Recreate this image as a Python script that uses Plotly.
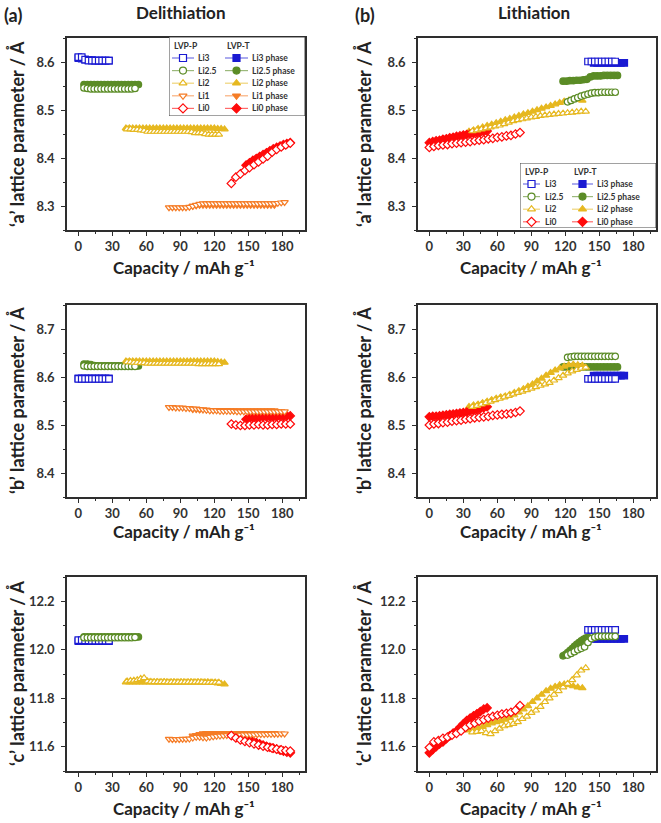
import plotly.graph_objects as go

# ------------------------------------------------------------------
# DATA  (capacity in mAh/g, lattice parameters in Angstrom)
# ------------------------------------------------------------------
# ---------- Delithiation, LVP-P (open symbols) ----------
del_p_li3_cap = [0, 3, 6, 9, 12, 15, 18, 21, 24, 27]
del_p_li3_a = [8.610, 8.610, 8.605, 8.603, 8.603, 8.603, 8.603, 8.603, 8.603, 8.603]
del_p_li3_b = [8.596, 8.596, 8.596, 8.596, 8.596, 8.596, 8.596, 8.596, 8.596, 8.596]
del_p_li3_c = [12.040, 12.040, 12.039, 12.039, 12.038, 12.038, 12.038, 12.038, 12.038, 12.038]

del_p_li25_cap = [5, 8, 11, 14, 17, 20, 23, 26, 29, 32, 35, 38, 41, 44, 47, 50]
del_p_li25_a = [8.546, 8.545, 8.544, 8.544, 8.544, 8.544, 8.544, 8.544, 8.544, 8.544, 8.544, 8.544, 8.544, 8.544, 8.544, 8.545]
del_p_li25_b = [8.623, 8.622, 8.622, 8.622, 8.622, 8.622, 8.622, 8.622, 8.622, 8.622, 8.622, 8.622, 8.622, 8.622, 8.622, 8.622]
del_p_li25_c = [12.050, 12.050, 12.050, 12.050, 12.050, 12.050, 12.050, 12.050, 12.050, 12.050, 12.050, 12.050, 12.050, 12.050, 12.050, 12.051]

del_p_li2_cap = [43, 46, 49, 52, 55, 58, 61, 64, 67, 70, 73, 76, 79, 82, 85, 88, 91, 94, 97, 100, 103, 106, 109, 112, 115, 118, 121, 124]
del_p_li2_a = [8.460, 8.460, 8.459, 8.459, 8.458, 8.457, 8.455, 8.455, 8.455, 8.455, 8.455, 8.455, 8.455, 8.455,
               8.455, 8.455, 8.455, 8.455, 8.455, 8.454, 8.452, 8.452, 8.452, 8.450, 8.449, 8.449, 8.449, 8.449]
del_p_li2_b = [8.631, 8.631, 8.630, 8.630, 8.629, 8.629, 8.628, 8.628, 8.628, 8.628, 8.628, 8.628, 8.628, 8.628,
               8.628, 8.628, 8.628, 8.628, 8.628, 8.628, 8.628, 8.627, 8.627, 8.627, 8.627, 8.627, 8.627, 8.627]
del_p_li2_c = [11.870, 11.872, 11.873, 11.875, 11.880, 11.884, 11.870, 11.868, 11.867, 11.867, 11.867, 11.867, 11.866, 11.866,
               11.866, 11.866, 11.866, 11.866, 11.866, 11.866, 11.866, 11.866, 11.866, 11.865, 11.865, 11.865, 11.865, 11.865]

del_p_li1_cap = [80, 83, 86, 89, 92, 95, 98, 101, 104, 107, 110, 113, 116, 119, 122, 125, 128, 131, 134, 137, 140, 143,
                 146, 149, 152, 155, 158, 161, 164, 167, 170, 173, 176, 179, 182]
del_p_li1_a = [8.297, 8.297, 8.297, 8.297, 8.297, 8.297, 8.298, 8.300, 8.302, 8.304, 8.305, 8.305, 8.305, 8.305, 8.305,
               8.305, 8.305, 8.305, 8.305, 8.305, 8.305, 8.305, 8.305, 8.305, 8.305, 8.305, 8.305, 8.305, 8.305, 8.305,
               8.305, 8.305, 8.306, 8.307, 8.308]
del_p_li1_b = [8.537, 8.537, 8.536, 8.536, 8.536, 8.535, 8.535, 8.534, 8.534, 8.533, 8.532, 8.531, 8.530, 8.530, 8.530,
               8.529, 8.529, 8.529, 8.529, 8.529, 8.528, 8.528, 8.528, 8.528, 8.528, 8.528, 8.528, 8.528, 8.528, 8.528,
               8.528, 8.528, 8.528, 8.528, 8.528]
del_p_li1_c = [11.632, 11.631, 11.631, 11.631, 11.632, 11.632, 11.633, 11.637, 11.640, 11.640, 11.638, 11.637, 11.640,
               11.642, 11.644, 11.645, 11.646, 11.647, 11.648, 11.648, 11.649, 11.649, 11.650, 11.650, 11.650, 11.650,
               11.651, 11.651, 11.651, 11.652, 11.652, 11.653, 11.653, 11.654, 11.654]

del_p_li0_cap = [135, 139, 143, 147, 151, 155, 159, 163, 167, 171, 175, 179, 183, 187]
del_p_li0_a = [8.347, 8.360, 8.367, 8.374, 8.380, 8.386, 8.392, 8.398, 8.404, 8.412, 8.418, 8.423, 8.427, 8.431]
del_p_li0_b = [8.502, 8.500, 8.499, 8.499, 8.500, 8.500, 8.501, 8.500, 8.500, 8.501, 8.501, 8.502, 8.502, 8.502]
del_p_li0_c = [11.646, 11.636, 11.628, 11.622, 11.617, 11.612, 11.607, 11.602, 11.598, 11.594, 11.590, 11.587, 11.584, 11.582]

# ---------- Delithiation, LVP-T (filled symbols) ----------
del_t_li3_cap = [0, 3, 6, 9, 12, 15, 18, 21, 24, 27]
del_t_li3_a = [8.608, 8.607, 8.605, 8.604, 8.604, 8.603, 8.603, 8.603, 8.603, 8.603]
del_t_li3_b = [8.597, 8.597, 8.597, 8.597, 8.597, 8.597, 8.597, 8.597, 8.597, 8.597]
del_t_li3_c = [12.035, 12.035, 12.035, 12.035, 12.035, 12.035, 12.035, 12.035, 12.035, 12.035]

del_t_li25_cap = [5, 8, 11, 14, 17, 20, 23, 26, 29, 32, 35, 38, 41, 44, 47, 50, 53]
del_t_li25_a = [8.553, 8.553, 8.553, 8.553, 8.553, 8.553, 8.553, 8.553, 8.553, 8.553, 8.553, 8.553, 8.553, 8.553, 8.553, 8.553, 8.553]
del_t_li25_b = [8.627, 8.627, 8.626, 8.624, 8.623, 8.623, 8.623, 8.623, 8.623, 8.623, 8.623, 8.623, 8.623, 8.623, 8.623, 8.623, 8.623]
del_t_li25_c = [12.053, 12.053, 12.053, 12.053, 12.053, 12.053, 12.053, 12.053, 12.053, 12.053, 12.053, 12.053, 12.053, 12.053, 12.053, 12.053, 12.053]

del_t_li2_cap = [42, 45, 48, 51, 54, 57, 60, 63, 66, 69, 72, 75, 78, 81, 84, 87, 90, 93, 96, 99, 102, 105, 108, 111,
                 114, 117, 120, 123, 126, 129]
del_t_li2_a = [8.462, 8.462, 8.462, 8.462, 8.462, 8.462, 8.462, 8.462, 8.462, 8.462, 8.462, 8.462, 8.462, 8.462, 8.462,
               8.462, 8.462, 8.462, 8.462, 8.462, 8.462, 8.462, 8.462, 8.462, 8.462, 8.462, 8.462, 8.461, 8.461, 8.460]
del_t_li2_b = [8.633, 8.633, 8.633, 8.633, 8.633, 8.633, 8.633, 8.633, 8.633, 8.633, 8.633, 8.633, 8.633, 8.633, 8.633,
               8.633, 8.633, 8.633, 8.633, 8.633, 8.633, 8.633, 8.633, 8.633, 8.633, 8.633, 8.633, 8.632, 8.631, 8.630]
del_t_li2_c = [11.866, 11.866, 11.866, 11.866, 11.866, 11.866, 11.866, 11.866, 11.866, 11.866, 11.866, 11.866, 11.866,
               11.866, 11.866, 11.866, 11.866, 11.866, 11.866, 11.866, 11.866, 11.866, 11.866, 11.866, 11.866, 11.865,
               11.864, 11.862, 11.860, 11.858]

del_t_li1_cap = [101, 104, 107, 110, 113, 116, 119, 122, 125, 128, 131, 134, 137, 140, 143, 146, 149, 152, 155, 158,
                 161, 164, 167, 170, 173]
del_t_li1_a = [8.300, 8.301, 8.302, 8.302, 8.302, 8.302, 8.302, 8.302, 8.302, 8.302, 8.302, 8.302, 8.302, 8.302, 8.302,
               8.302, 8.302, 8.302, 8.302, 8.302, 8.302, 8.302, 8.302, 8.302, 8.302]
del_t_li1_b = [8.533, 8.533, 8.532, 8.532, 8.532, 8.531, 8.531, 8.531, 8.531, 8.531, 8.531, 8.530, 8.530, 8.530, 8.530,
               8.530, 8.530, 8.530, 8.530, 8.530, 8.530, 8.530, 8.530, 8.530, 8.530]
del_t_li1_c = [11.645, 11.648, 11.652, 11.655, 11.656, 11.656, 11.656, 11.656, 11.656, 11.656, 11.656, 11.656, 11.656,
               11.656, 11.656, 11.656, 11.656, 11.656, 11.656, 11.656, 11.656, 11.656, 11.656, 11.656, 11.656]

del_t_li0_cap = [148, 151, 154, 157, 160, 163, 166, 169, 172, 175, 178, 181, 184, 187]
del_t_li0_a = [8.385, 8.390, 8.395, 8.399, 8.403, 8.407, 8.411, 8.415, 8.419, 8.422, 8.425, 8.428, 8.430, 8.432]
del_t_li0_b = [8.512, 8.514, 8.515, 8.516, 8.516, 8.517, 8.517, 8.517, 8.517, 8.517, 8.518, 8.518, 8.519, 8.519]
del_t_li0_c = [11.632, 11.627, 11.622, 11.617, 11.612, 11.607, 11.602, 11.598, 11.594, 11.590, 11.586, 11.582, 11.578, 11.575]

# ---------- Lithiation, LVP-P (open symbols) ----------
lit_p_li0_cap = [0, 4, 8, 12, 16, 20, 24, 28, 32, 36, 40, 44, 48, 52, 56, 60, 64, 68, 72, 76, 80]
lit_p_li0_a = [8.422, 8.424, 8.426, 8.427, 8.428, 8.430, 8.431, 8.432, 8.433, 8.434, 8.436, 8.437, 8.438, 8.440,
               8.441, 8.443, 8.444, 8.446, 8.447, 8.450, 8.453]
lit_p_li0_b = [8.500, 8.502, 8.503, 8.505, 8.506, 8.508, 8.509, 8.510, 8.512, 8.513, 8.515, 8.516, 8.517, 8.518,
               8.520, 8.521, 8.522, 8.523, 8.524, 8.526, 8.529]
lit_p_li0_c = [11.597, 11.620, 11.625, 11.635, 11.640, 11.648, 11.655, 11.665, 11.680, 11.690, 11.697, 11.705, 11.712,
               11.718, 11.725, 11.730, 11.735, 11.738, 11.742, 11.750, 11.770]

lit_p_li2_cap = [38, 42, 46, 50, 54, 58, 62, 66, 70, 74, 78, 82, 86, 90, 94, 98, 102, 106, 110, 114, 118, 122, 126,
                 130, 134, 138]
lit_p_li2_a = [8.456, 8.458, 8.460, 8.462, 8.464, 8.466, 8.468, 8.471, 8.474, 8.477, 8.479, 8.481, 8.483, 8.485, 8.486,
               8.488, 8.489, 8.490, 8.491, 8.492, 8.493, 8.494, 8.495, 8.496, 8.497, 8.497]
lit_p_li2_b = [8.538, 8.540, 8.543, 8.546, 8.549, 8.552, 8.555, 8.558, 8.561, 8.564, 8.567, 8.570, 8.573, 8.576, 8.579,
               8.582, 8.585, 8.588, 8.593, 8.598, 8.603, 8.608, 8.612, 8.615, 8.618, 8.620]
lit_p_li2_c = [11.660, 11.662, 11.665, 11.657, 11.653, 11.665, 11.675, 11.685, 11.690, 11.695, 11.702, 11.715, 11.725,
               11.740, 11.750, 11.765, 11.785, 11.800, 11.815, 11.830, 11.845, 11.860, 11.875, 11.895, 11.915, 11.925]

lit_p_li25_cap = [122, 125, 128, 131, 134, 137, 140, 143, 146, 149, 152, 155, 158, 161, 164]
lit_p_li25_a = [8.517, 8.520, 8.523, 8.526, 8.529, 8.531, 8.533, 8.535, 8.536, 8.536, 8.537, 8.537, 8.537, 8.537, 8.537]
lit_p_li25_b = [8.641, 8.642, 8.643, 8.643, 8.643, 8.643, 8.643, 8.643, 8.643, 8.643, 8.643, 8.643, 8.643, 8.643, 8.643]
lit_p_li25_c = [11.978, 11.985, 11.992, 12.000, 12.006, 12.012, 12.030, 12.046, 12.052, 12.055, 12.055, 12.055, 12.055,
                12.055, 12.055]

lit_p_li3_cap = [140, 143, 146, 149, 152, 155, 158, 161, 164]
lit_p_li3_a = [8.601, 8.601, 8.601, 8.601, 8.601, 8.601, 8.601, 8.601, 8.601]
lit_p_li3_b = [8.596, 8.596, 8.596, 8.596, 8.596, 8.596, 8.596, 8.596, 8.596]
lit_p_li3_c = [12.082, 12.082, 12.082, 12.082, 12.082, 12.082, 12.082, 12.082, 12.082]

# ---------- Lithiation, LVP-T (filled symbols) ----------
lit_t_li0_cap = [0, 3, 6, 9, 12, 15, 18, 21, 24, 27, 30, 33, 36, 39, 42, 45, 48, 51]
lit_t_li0_a = [8.432, 8.434, 8.436, 8.437, 8.439, 8.440, 8.442, 8.443, 8.445, 8.446, 8.448, 8.449, 8.450, 8.451,
               8.453, 8.454, 8.455, 8.456]
lit_t_li0_b = [8.517, 8.518, 8.518, 8.519, 8.520, 8.521, 8.522, 8.523, 8.524, 8.525, 8.526, 8.527, 8.529, 8.530,
               8.532, 8.534, 8.536, 8.538]
lit_t_li0_c = [11.575, 11.588, 11.600, 11.612, 11.620, 11.633, 11.645, 11.656, 11.665, 11.680, 11.695, 11.708,
               11.718, 11.727, 11.736, 11.745, 11.755, 11.760]

lit_t_li2_cap = [35, 39, 43, 47, 51, 55, 59, 63, 67, 71, 75, 79, 83, 87, 91, 95, 99, 103, 107, 111, 115, 119, 123,
                 127, 131, 135]
lit_t_li2_a = [8.455, 8.458, 8.461, 8.464, 8.467, 8.470, 8.473, 8.476, 8.479, 8.482, 8.485, 8.488, 8.491, 8.494,
               8.497, 8.500, 8.503, 8.506, 8.509, 8.512, 8.515, 8.518, 8.520, 8.522, 8.522, 8.520]
lit_t_li2_b = [8.538, 8.541, 8.543, 8.546, 8.549, 8.552, 8.555, 8.558, 8.560, 8.563, 8.567, 8.571, 8.575, 8.580,
               8.585, 8.591, 8.597, 8.603, 8.609, 8.614, 8.618, 8.622, 8.625, 8.626, 8.625, 8.624]
lit_t_li2_c = [11.668, 11.670, 11.675, 11.682, 11.690, 11.697, 11.702, 11.706, 11.712, 11.720, 11.730, 11.742,
               11.755, 11.768, 11.785, 11.800, 11.815, 11.830, 11.840, 11.848, 11.855, 11.858, 11.855, 11.850,
               11.845, 11.842]

lit_t_li25_cap = [118, 121, 124, 127, 130, 133, 136, 139, 142, 145, 148, 151, 154, 157, 160, 163, 166]
lit_t_li25_a = [8.560, 8.560, 8.561, 8.561, 8.562, 8.562, 8.563, 8.564, 8.569, 8.571, 8.571, 8.571, 8.572, 8.572,
                8.572, 8.572, 8.572]
lit_t_li25_b = [8.621, 8.621, 8.621, 8.621, 8.621, 8.621, 8.621, 8.621, 8.621, 8.621, 8.621, 8.621, 8.621, 8.621,
                8.621, 8.621, 8.621]
lit_t_li25_cap_c = [118, 120, 122, 124, 126, 128, 130, 132, 134, 136, 138, 140]
lit_t_li25_c = [11.975, 11.980, 11.988, 11.996, 12.005, 12.014, 12.022, 12.030, 12.037, 12.043, 12.048, 12.051]

lit_t_li3_cap = [145, 148, 151, 154, 157, 160, 163, 166, 169, 172]
lit_t_li3_a = [8.598, 8.598, 8.598, 8.598, 8.598, 8.598, 8.598, 8.598, 8.598, 8.598]
lit_t_li3_b = [8.603, 8.603, 8.603, 8.603, 8.603, 8.603, 8.603, 8.603, 8.603, 8.603]
lit_t_li3_c = [12.045, 12.045, 12.045, 12.045, 12.045, 12.045, 12.045, 12.045, 12.045, 12.045]

# labels
panel_titles = ["Delithiation", "Lithiation"]
panel_tags = ["(a)", "(b)"]
param_names = ["a", "b", "c"]
x_title = "Capacity / mAh g\u207b\u00b9"
x_ticks = [0, 30, 60, 90, 120, 150, 180]
legend_a_p = ["Li3", "Li2.5", "Li2", "Li1", "Li0"]
legend_b_p = ["Li3", "Li2.5", "Li2", "Li0"]

# ------------------------------------------------------------------
# STYLE
# ------------------------------------------------------------------
FONT = "Lato, 'Open Sans', sans-serif"
INK = "#2e2e2e"
COLORS = {"Li3": "#1a1ad2", "Li2.5": "#5b8c26", "Li2": "#e6b820", "Li1": "#f57c26", "Li0": "#ff0a0a"}
SYMBOLS = {"Li3": "square", "Li2.5": "circle", "Li2": "triangle-up", "Li1": "triangle-down", "Li0": "diamond"}

W, H = 661, 823
col_px = [(67, 305), (418, 656)]
row_px = [(38, 230), (305, 497), (577, 771)]
y_ranges = [[8.25, 8.65], [8.35, 8.75], [11.5, 12.3]]
y_dticks = [0.1, 0.1, 0.2]

# (column, phase, filled, [cap_a, cap_b, cap_c], [a, b, c])
series = [
    (0, "Li3", True, [del_t_li3_cap] * 3, [del_t_li3_a, del_t_li3_b, del_t_li3_c]),
    (0, "Li2.5", True, [del_t_li25_cap] * 3, [del_t_li25_a, del_t_li25_b, del_t_li25_c]),
    (0, "Li2", True, [del_t_li2_cap] * 3, [del_t_li2_a, del_t_li2_b, del_t_li2_c]),
    (0, "Li1", True, [del_t_li1_cap] * 3, [del_t_li1_a, del_t_li1_b, del_t_li1_c]),
    (0, "Li0", True, [del_t_li0_cap] * 3, [del_t_li0_a, del_t_li0_b, del_t_li0_c]),
    (0, "Li3", False, [del_p_li3_cap] * 3, [del_p_li3_a, del_p_li3_b, del_p_li3_c]),
    (0, "Li2.5", False, [del_p_li25_cap] * 3, [del_p_li25_a, del_p_li25_b, del_p_li25_c]),
    (0, "Li2", False, [del_p_li2_cap] * 3, [del_p_li2_a, del_p_li2_b, del_p_li2_c]),
    (0, "Li1", False, [del_p_li1_cap] * 3, [del_p_li1_a, del_p_li1_b, del_p_li1_c]),
    (0, "Li0", False, [del_p_li0_cap] * 3, [del_p_li0_a, del_p_li0_b, del_p_li0_c]),
    (1, "Li3", True, [lit_t_li3_cap] * 3, [lit_t_li3_a, lit_t_li3_b, lit_t_li3_c]),
    (1, "Li2.5", True, [lit_t_li25_cap, lit_t_li25_cap, lit_t_li25_cap_c], [lit_t_li25_a, lit_t_li25_b, lit_t_li25_c]),
    (1, "Li2", True, [lit_t_li2_cap] * 3, [lit_t_li2_a, lit_t_li2_b, lit_t_li2_c]),
    (1, "Li0", True, [lit_t_li0_cap] * 3, [lit_t_li0_a, lit_t_li0_b, lit_t_li0_c]),
    (1, "Li3", False, [lit_p_li3_cap] * 3, [lit_p_li3_a, lit_p_li3_b, lit_p_li3_c]),
    (1, "Li2.5", False, [lit_p_li25_cap] * 3, [lit_p_li25_a, lit_p_li25_b, lit_p_li25_c]),
    (1, "Li2", False, [lit_p_li2_cap] * 3, [lit_p_li2_a, lit_p_li2_b, lit_p_li2_c]),
    (1, "Li0", False, [lit_p_li0_cap] * 3, [lit_p_li0_a, lit_p_li0_b, lit_p_li0_c]),
]


def px_x(p):
    return p / W


def px_y(p):
    return 1 - p / H


def ax_id(row, col):
    return row * 2 + col + 1


def marker_style(phase, filled, size=6.5):
    c = COLORS[phase]
    return dict(symbol=SYMBOLS[phase], size=size,
                color=c if filled else "white",
                line=dict(color=c, width=1.2))


fig = go.Figure()

for col, phase, filled, caps, ys in series:
    for row in range(3):
        n = ax_id(row, col)
        fig.add_trace(go.Scatter(
            x=caps[row], y=ys[row], mode="lines+markers",
            xaxis="x" if n == 1 else f"x{n}", yaxis="y" if n == 1 else f"y{n}",
            line=dict(color=COLORS[phase], width=1),
            marker=marker_style(phase, filled),
            showlegend=False, hoverinfo="skip"))

layout = dict(width=W, height=H, margin=dict(l=0, r=0, t=0, b=0),
              paper_bgcolor="white", plot_bgcolor="white", showlegend=False)

tickfont = dict(family=FONT, size=13, color="#333", weight=700)
for row in range(3):
    for col in range(2):
        n = ax_id(row, col)
        xk = "xaxis" if n == 1 else f"xaxis{n}"
        yk = "yaxis" if n == 1 else f"yaxis{n}"
        layout[xk] = dict(domain=[px_x(col_px[col][0]), px_x(col_px[col][1])], range=[-10, 200],
                          anchor="y" if n == 1 else f"y{n}", tickvals=x_ticks,
                          showline=True, linecolor=INK, linewidth=1.6, mirror=True,
                          ticks="outside", ticklen=4, tickwidth=1.3, tickcolor=INK,
                          minor=dict(ticks="outside", ticklen=2.5, dtick=15, tickcolor=INK),
                          showgrid=False, zeroline=False, tickfont=tickfont, fixedrange=True)
        layout[yk] = dict(domain=[px_y(row_px[row][1]), px_y(row_px[row][0])], range=y_ranges[row],
                          anchor="x" if n == 1 else f"x{n}", dtick=y_dticks[row], tick0=8.0,
                          tickformat=".1f",
                          showline=True, linecolor=INK, linewidth=1.6, mirror=True,
                          ticks="outside", ticklen=4, tickwidth=1.3, tickcolor=INK,
                          minor=dict(ticks="outside", ticklen=2.5, dtick=y_dticks[row] / 2, tickcolor=INK),
                          ticklabelstandoff=4,
                          showgrid=False, zeroline=False, tickfont=tickfont, fixedrange=True)

annotations = []
title_font = dict(family=FONT, size=17, color="#222", weight=700)
axis_title_font = dict(family=FONT, size=17, color="#222", weight=700)
for col, (tag_x, title_x) in enumerate([(2, 180), (353, 534)]):
    annotations.append(dict(text=panel_tags[col], x=px_x(tag_x), y=px_y(15), xref="paper", yref="paper",
                            xanchor="left", yanchor="middle", showarrow=False,
                            font=dict(family=FONT, size=18, color="#222", weight=700)))
    annotations.append(dict(text=panel_titles[col], x=px_x(title_x), y=px_y(12), xref="paper", yref="paper",
                            xanchor="center", yanchor="middle", showarrow=False, font=title_font))

xt_y = [268, 531, 808]
yt_x = [17, 364]
xt_x = [184, 531]
for row in range(3):
    for col in range(2):
        annotations.append(dict(text=x_title, x=px_x(xt_x[col]), y=px_y(xt_y[row]), xref="paper", yref="paper",
                                xanchor="center", yanchor="middle", showarrow=False, font=axis_title_font))
        yc = (row_px[row][0] + row_px[row][1]) / 2
        annotations.append(dict(text=f"\u2018{param_names[row]}\u2019 lattice parameter / \u00c5",
                                x=px_x(yt_x[col]), y=px_y(yc), xref="paper", yref="paper", textangle=-90,
                                xanchor="center", yanchor="middle", showarrow=False,
                                font=dict(family=FONT, size=18, color="#222", weight=700)))

# ------------------------------------------------------------------
# Two-column legends (LVP-P / LVP-T) drawn on small overlay axes
# ------------------------------------------------------------------
shapes = []
legend_specs = [
    # axis num, box px (x0, y0, x1, y1), labels, left swatch (x0, x1, marker, text), right swatch
    (7, (169, 37, 305, 116), legend_a_p, (3, 25, 14, 27), (56, 79, 67.5, 81)),
    (8, (520, 163, 656, 228), legend_b_p, (3, 20, 11.5, 23), (52, 73, 62.5, 75)),
]
leg_font = dict(family=FONT, size=8.5, color="#333", weight=700)
for n, (bx0, by0, bx1, by1), labels, lsw, rsw in legend_specs:
    bw, bh = bx1 - bx0, by1 - by0
    layout[f"xaxis{n}"] = dict(domain=[px_x(bx0), px_x(bx1)], range=[0, bw], visible=False,
                               anchor=f"y{n}", fixedrange=True)
    layout[f"yaxis{n}"] = dict(domain=[px_y(by1), px_y(by0)], range=[bh, 0], visible=False,
                               anchor=f"x{n}", fixedrange=True)
    shapes.append(dict(type="rect", xref=f"x{n}", yref=f"y{n}", x0=0, x1=bw, y0=0, y1=bh,
                       line=dict(color="#444", width=1), fillcolor="white", layer="below"))
    annotations.append(dict(text="LVP-P", x=lsw[0], y=8.5, xref=f"x{n}", yref=f"y{n}", xanchor="left",
                            yanchor="middle", showarrow=False, font=leg_font))
    annotations.append(dict(text="LVP-T", x=rsw[0], y=8.5, xref=f"x{n}", yref=f"y{n}", xanchor="left",
                            yanchor="middle", showarrow=False, font=leg_font))
    for i, lab in enumerate(labels):
        ry = 21 + 12.6 * i
        for sw, filled, text in [(lsw, False, lab), (rsw, True, lab + " phase")]:
            fig.add_trace(go.Scatter(x=[sw[0], sw[1]], y=[ry, ry], mode="lines", xaxis=f"x{n}", yaxis=f"y{n}",
                                     line=dict(color=COLORS[lab], width=1.2), opacity=0.6,
                                     showlegend=False, hoverinfo="skip"))
            fig.add_trace(go.Scatter(x=[sw[2]], y=[ry], mode="markers", xaxis=f"x{n}", yaxis=f"y{n}",
                                     marker=marker_style(lab, filled, size=7),
                                     showlegend=False, hoverinfo="skip"))
            annotations.append(dict(text=text, x=sw[3], y=ry, xref=f"x{n}", yref=f"y{n}", xanchor="left",
                                    yanchor="middle", showarrow=False, font=leg_font))

layout["annotations"] = annotations
layout["shapes"] = shapes
fig.update_layout(**layout)
# remove the browser's default 8px body margin so the figure sits at the page origin; hide the modebar
fig.write_html("out.html", config={"displayModeBar": False},
               post_script="document.body.style.margin='0px';")
